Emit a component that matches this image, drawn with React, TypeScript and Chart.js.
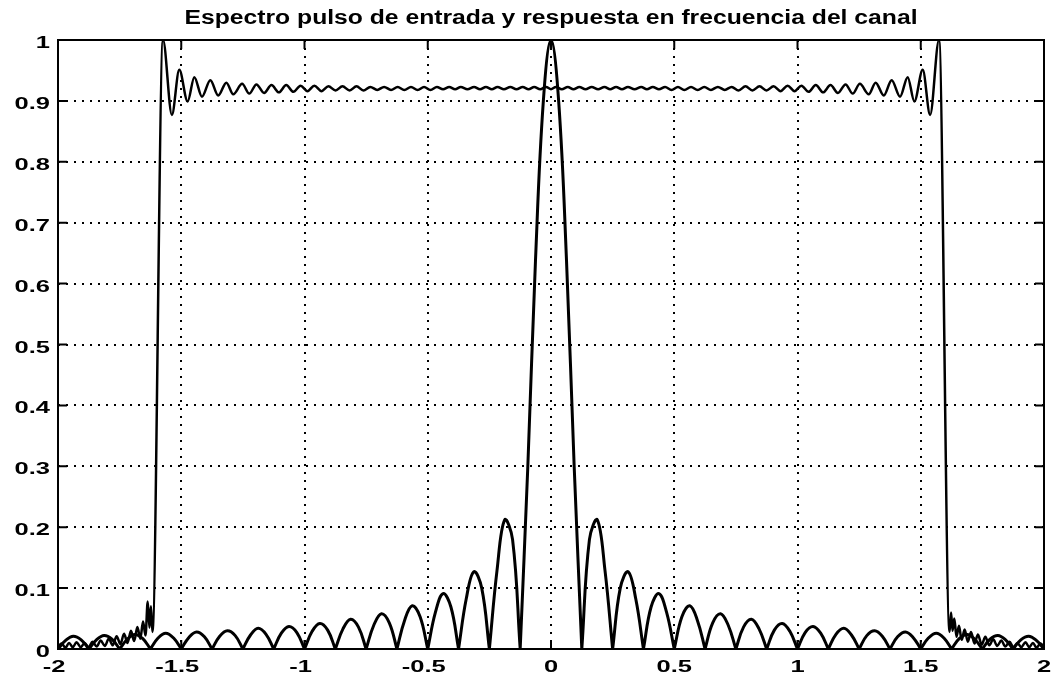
import { useEffect, useRef } from 'react';
import { Chart, registerables } from 'chart.js';

Chart.register(...registerables);

const TITLE = 'Espectro pulso de entrada y respuesta en frecuencia del canal';

const xTickValues = [-2, -1.5, -1, -0.5, 0, 0.5, 1, 1.5, 2];
const xTickLabels = ['-2', '-1.5', '-1', '-0.5', '0', '0.5', '1', '1.5', '2'];
const yTickValues = [0, 0.1, 0.2, 0.3, 0.4, 0.5, 0.6, 0.7, 0.8, 0.9, 1];
const yTickLabels = ['0', '0.1', '0.2', '0.3', '0.4', '0.5', '0.6', '0.7', '0.8', '0.9', '1'];

// Input pulse spectrum (|sinc| shaped lobes); each lobe is zero, rise, peak, fall, zero
const pulseFreq = [
  -2, -1.969, -1.938, -1.906, -1.875,
  -1.875, -1.844, -1.813, -1.781, -1.75,
  -1.75, -1.719, -1.688, -1.656, -1.625,
  -1.625, -1.594, -1.563, -1.531, -1.5,
  -1.5, -1.469, -1.438, -1.406, -1.375,
  -1.375, -1.344, -1.313, -1.281, -1.25,
  -1.25, -1.219, -1.188, -1.156, -1.125,
  -1.125, -1.094, -1.063, -1.031, -1,
  -1, -0.969, -0.938, -0.906, -0.875,
  -0.875, -0.844, -0.813, -0.781, -0.75,
  -0.75, -0.719, -0.688, -0.656, -0.625,
  -0.625, -0.594, -0.563, -0.531, -0.5,
  -0.5, -0.469, -0.438, -0.406, -0.375,
  -0.375, -0.344, -0.313, -0.281, -0.25,
  -0.25, -0.219, -0.188, -0.156, -0.125,
  -0.125, -0.094, -0.063, -0.031, 0, 0.031, 0.063, 0.094, 0.125,
  0.125, 0.156, 0.188, 0.219, 0.25,
  0.25, 0.281, 0.313, 0.344, 0.375,
  0.375, 0.406, 0.438, 0.469, 0.5,
  0.5, 0.531, 0.563, 0.594, 0.625,
  0.625, 0.656, 0.688, 0.719, 0.75,
  0.75, 0.781, 0.813, 0.844, 0.875,
  0.875, 0.906, 0.938, 0.969, 1,
  1, 1.031, 1.063, 1.094, 1.125,
  1.125, 1.156, 1.188, 1.219, 1.25,
  1.25, 1.281, 1.313, 1.344, 1.375,
  1.375, 1.406, 1.438, 1.469, 1.5,
  1.5, 1.531, 1.563, 1.594, 1.625,
  1.625, 1.656, 1.688, 1.719, 1.75,
  1.75, 1.781, 1.813, 1.844, 1.875,
  1.875, 1.906, 1.938, 1.969, 2,
];
const pulseMag = [
  0, 0.014, 0.021, 0.015, 0,
  0, 0.015, 0.022, 0.016, 0,
  0, 0.016, 0.024, 0.017, 0,
  0, 0.018, 0.026, 0.018, 0,
  0, 0.019, 0.028, 0.020, 0,
  0, 0.021, 0.030, 0.022, 0,
  0, 0.023, 0.034, 0.024, 0,
  0, 0.026, 0.037, 0.027, 0,
  0, 0.029, 0.042, 0.031, 0,
  0, 0.033, 0.049, 0.036, 0,
  0, 0.039, 0.058, 0.043, 0,
  0, 0.047, 0.071, 0.053, 0,
  0, 0.060, 0.091, 0.069, 0,
  0, 0.082, 0.127, 0.100, 0,
  0, 0.129, 0.212, 0.180, 0,
  0, 0.300, 0.637, 0.900, 1, 0.900, 0.637, 0.300, 0,
  0, 0.180, 0.212, 0.129, 0,
  0, 0.100, 0.127, 0.082, 0,
  0, 0.069, 0.091, 0.060, 0,
  0, 0.053, 0.071, 0.047, 0,
  0, 0.043, 0.058, 0.039, 0,
  0, 0.036, 0.049, 0.033, 0,
  0, 0.031, 0.042, 0.029, 0,
  0, 0.027, 0.037, 0.026, 0,
  0, 0.024, 0.034, 0.023, 0,
  0, 0.022, 0.030, 0.021, 0,
  0, 0.020, 0.028, 0.019, 0,
  0, 0.018, 0.026, 0.018, 0,
  0, 0.017, 0.024, 0.016, 0,
  0, 0.016, 0.022, 0.015, 0,
  0, 0.015, 0.021, 0.014, 0,
];

// Channel frequency response (ripple extrema)
const channelFreq = [
  -2, -1.985, -1.97, -1.955, -1.94, -1.925, -1.908, -1.892, -1.876, -1.86,
  -1.843, -1.827, -1.81, -1.794, -1.778, -1.762, -1.747, -1.732, -1.718, -1.704,
  -1.691, -1.678, -1.666, -1.655, -1.645, -1.636, -1.629, -1.623, -1.617,
  -1.574, -1.538, -1.508, -1.474, -1.447, -1.416, -1.382, -1.35, -1.317, -1.289,
  -1.253, -1.224, -1.195, -1.164, -1.134, -1.104, -1.074, -1.045, -1.016, -0.988,
  -0.96, -0.931, -0.903, -0.874, -0.846, -0.817, -0.789, -0.761, -0.733, -0.705,
  -0.677, -0.649, -0.622, -0.595, -0.568, -0.541, -0.515, -0.489, -0.463, -0.438,
  -0.413, -0.389, -0.366, -0.339, -0.312, -0.288, -0.264, -0.24, -0.217, -0.191,
  -0.165, -0.14, -0.115, -0.091, -0.068, -0.044, -0.02, 0,
  0.02, 0.044, 0.068, 0.091, 0.115, 0.14, 0.165, 0.191, 0.217, 0.24,
  0.264, 0.288, 0.312, 0.339, 0.366, 0.389, 0.413, 0.438, 0.463, 0.489,
  0.515, 0.541, 0.568, 0.595, 0.622, 0.649, 0.677, 0.705, 0.733, 0.761,
  0.789, 0.817, 0.846, 0.874, 0.903, 0.931, 0.96, 0.988, 1.016, 1.045,
  1.074, 1.104, 1.134, 1.164, 1.195, 1.224, 1.253, 1.289, 1.317, 1.35,
  1.382, 1.416, 1.447, 1.474, 1.508, 1.538, 1.574,
  1.617, 1.623, 1.629, 1.636, 1.645, 1.655, 1.666, 1.678, 1.691, 1.704,
  1.718, 1.732, 1.747, 1.762, 1.778, 1.794, 1.81, 1.827, 1.843, 1.86,
  1.876, 1.892, 1.908, 1.925, 1.94, 1.955, 1.97, 1.985, 2,
];
const channelMag = [
  0.004, 0.009, 0.002, 0.010, 0.003, 0.011, 0.003, 0.010, 0.003, 0.012,
  0.004, 0.014, 0.005, 0.017, 0.006, 0.021, 0.008, 0.025, 0.010, 0.030,
  0.013, 0.036, 0.017, 0.045, 0.022, 0.078, 0.035, 0.070, 0.028,
  1.000, 0.877, 0.951, 0.899, 0.939, 0.907, 0.934, 0.909, 0.930, 0.911,
  0.928, 0.912, 0.927, 0.913, 0.926, 0.914, 0.926, 0.915, 0.925, 0.916,
  0.925, 0.916, 0.924, 0.917, 0.924, 0.917, 0.924, 0.917, 0.923, 0.918,
  0.923, 0.918, 0.923, 0.918, 0.923, 0.918, 0.923, 0.918, 0.923, 0.919,
  0.923, 0.919, 0.923, 0.919, 0.923, 0.919, 0.923, 0.919, 0.923, 0.919,
  0.923, 0.919, 0.923, 0.919, 0.923, 0.919, 0.923, 0.919,
  0.923, 0.919, 0.923, 0.919, 0.923, 0.919, 0.923, 0.919, 0.923, 0.919,
  0.923, 0.919, 0.923, 0.919, 0.923, 0.919, 0.923, 0.919, 0.923, 0.918,
  0.923, 0.918, 0.923, 0.918, 0.923, 0.918, 0.923, 0.918, 0.923, 0.917,
  0.924, 0.917, 0.924, 0.917, 0.924, 0.916, 0.925, 0.916, 0.925, 0.915,
  0.926, 0.914, 0.926, 0.913, 0.927, 0.912, 0.928, 0.911, 0.930, 0.909,
  0.934, 0.907, 0.939, 0.899, 0.951, 0.877, 1.000,
  0.028, 0.060, 0.030, 0.050, 0.020, 0.038, 0.015, 0.032, 0.012, 0.028,
  0.009, 0.024, 0.007, 0.020, 0.006, 0.016, 0.005, 0.014, 0.004, 0.012,
  0.003, 0.010, 0.003, 0.011, 0.003, 0.010, 0.002, 0.009, 0.004,
];

const W = 1051;
const H = 683;
const LABEL_FONT = 'bold 17px "Liberation Sans", Arial, Helvetica, sans-serif';
const TITLE_FONT = 'bold 20px "Liberation Sans", Arial, Helvetica, sans-serif';

const framePlugin = {
  id: 'matlabFrame',
  afterDatasetsDraw(chart: any) {
    const { ctx, chartArea: a, scales } = chart;
    ctx.save();
    ctx.strokeStyle = '#000';
    ctx.lineWidth = 2;
    ctx.setLineDash([]);
    ctx.strokeRect(a.left, a.top, a.right - a.left, a.bottom - a.top);
    ctx.beginPath();
    for (const v of xTickValues) {
      const px = scales.x.getPixelForValue(v);
      ctx.moveTo(px, a.top);
      ctx.lineTo(px, a.top + 9);
      ctx.moveTo(px, a.bottom);
      ctx.lineTo(px, a.bottom - 9);
    }
    for (const v of yTickValues) {
      const py = scales.y.getPixelForValue(v);
      ctx.moveTo(a.left, py);
      ctx.lineTo(a.left + 9, py);
      ctx.moveTo(a.right, py);
      ctx.lineTo(a.right - 9, py);
    }
    ctx.stroke();

    ctx.fillStyle = '#000';
    ctx.font = LABEL_FONT;
    ctx.textBaseline = 'alphabetic';
    const sx = 1.5;
    // y tick labels
    ctx.textAlign = 'right';
    yTickValues.forEach((v, i) => {
      const py = scales.y.getPixelForValue(v);
      ctx.save();
      ctx.translate(a.left - 8, py + 8);
      ctx.scale(sx, 1);
      ctx.fillText(yTickLabels[i], 0, 0);
      ctx.restore();
    });
    // x tick labels
    ctx.textAlign = 'center';
    xTickValues.forEach((v, i) => {
      const label = xTickLabels[i];
      const px = scales.x.getPixelForValue(v) - (label.startsWith('-') ? 4 : 0);
      ctx.save();
      ctx.translate(px, a.bottom + 23);
      ctx.scale(sx, 1);
      ctx.fillText(label, 0, 0);
      ctx.restore();
    });
    // title
    ctx.font = TITLE_FONT;
    const tw = ctx.measureText(TITLE).width;
    const tsx = 733 / tw;
    ctx.save();
    ctx.translate((a.left + a.right) / 2, 24);
    ctx.scale(tsx, 1);
    ctx.textAlign = 'center';
    ctx.fillText(TITLE, 0, 0);
    ctx.restore();
    ctx.restore();
  },
};

export default function App() {
  const ref = useRef<HTMLCanvasElement | null>(null);
  useEffect(() => {
    if (!ref.current) return;
    const chart = new Chart(ref.current, {
      type: 'line',
      data: {
        datasets: [
          {
            label: 'Espectro pulso de entrada',
            data: pulseFreq.map((f, i) => ({ x: f, y: pulseMag[i] })),
            borderColor: '#000',
            borderWidth: 3,
            pointRadius: 0,
            tension: 0.4,
            fill: false,
          },
          {
            label: 'Respuesta en frecuencia del canal',
            data: channelFreq.map((f, i) => ({ x: f, y: channelMag[i] })),
            borderColor: '#000',
            borderWidth: 2.5,
            pointRadius: 0,
            cubicInterpolationMode: 'monotone',
            fill: false,
          },
        ],
      },
      options: {
        animation: false,
        responsive: false,
        maintainAspectRatio: false,
        devicePixelRatio: 1,
        events: [],
        layout: { padding: { left: 58, right: 7, top: 40, bottom: 34 } },
        plugins: {
          legend: { display: false },
          title: { display: false },
          tooltip: { enabled: false },
        },
        scales: {
          x: {
            type: 'linear',
            min: -2,
            max: 2,
            ticks: { display: false, stepSize: 0.5 },
            grid: { color: '#000', lineWidth: 2, drawTicks: false },
            border: { display: false, dash: [2, 6] },
            afterFit: (s: any) => {
              s.height = 0;
            },
          },
          y: {
            type: 'linear',
            min: 0,
            max: 1,
            ticks: { display: false, stepSize: 0.1 },
            grid: { color: '#000', lineWidth: 2, drawTicks: false },
            border: { display: false, dash: [2, 6] },
            afterFit: (s: any) => {
              s.width = 0;
            },
          },
        },
      } as any,
      plugins: [framePlugin],
    });
    return () => chart.destroy();
  }, []);
  return (
    <div style={{ position: 'fixed', left: 0, top: 0, width: W, height: H, background: '#fff' }}>
      <canvas ref={ref} width={W} height={H} style={{ display: 'block', width: W, height: H }} />
    </div>
  );
}
